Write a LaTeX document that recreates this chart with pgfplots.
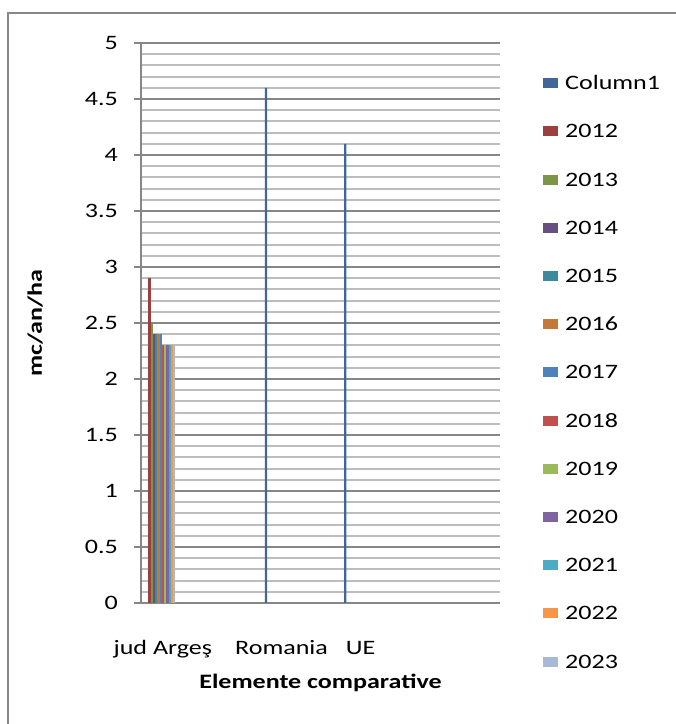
\documentclass[border=0pt]{standalone}
\usepackage{fontspec}
\setmainfont{Carlito}[FakeStretch=1.27]
\usepackage{pgfplots}
\pgfplotsset{compat=1.18}

% excel 2007 palette, first six series darker
\definecolor{cA}{HTML}{3F6797}
\definecolor{cB}{HTML}{9A403E}
\definecolor{cC}{HTML}{7C9647}
\definecolor{cD}{HTML}{665082}
\definecolor{cE}{HTML}{3C8A9E}
\definecolor{cF}{HTML}{C67838}
\definecolor{cG}{HTML}{4F81BD}
\definecolor{cH}{HTML}{C0504D}
\definecolor{cI}{HTML}{9BBB59}
\definecolor{cJ}{HTML}{8064A2}
\definecolor{cK}{HTML}{4BACC6}
\definecolor{cL}{HTML}{F79646}
\definecolor{cM}{HTML}{A7B9D9}
\definecolor{gridmaj}{HTML}{878787}
\definecolor{gridmin}{HTML}{BDBDBD}

\begin{document}
\fontsize{20.5bp}{24bp}\selectfont
\begin{tikzpicture}
\path[use as bounding box] (0,0) rectangle (676bp,724bp);
\draw[gridmaj, line width=2bp] (8bp,0) -- (8bp,711bp) -- (676bp,711bp);
\begin{axis}[
    at={(141bp,121bp)}, anchor=south west,
    scale only axis, width=359bp, height=560bp,
    xmin=-0.5, xmax=8.57, ymin=0, ymax=5,
    enlargelimits=false,
    ybar, bar width=0.0568,
    axis lines*=left,
    axis line style={gridmaj, line width=2.2bp},
    xtick={0,3,5}, xticklabels={jud Argeş, Romania, UE},
    xtick style={draw=none},
    xticklabel style={anchor=base, inner sep=0pt, yshift=-44bp, xshift=2bp},
    ytick distance=0.5, minor y tick num=4,
    ymajorgrids, yminorgrids,
    major grid style={gridmaj, line width=2.2bp},
    minor grid style={gridmin, line width=2bp},
    tick align=outside, major tick length=7bp, minor tick length=0pt,
    ytick style={gridmaj, line width=2.2bp},
    yticklabel style={anchor=east, inner sep=0pt, xshift=-16bp},
    /pgf/number format/assume math mode=true,
    xlabel={Elemente comparative},
    xlabel style={font=\bfseries, at={(axis description cs:0.5,0)}, anchor=base, yshift=-85bp},
    ylabel={mc/an/ha},
    ylabel style={font=\bfseries, at={(axis description cs:-0.2758,0.5)}, anchor=base},
    every axis plot/.append style={draw=none,
        legend image code/.code={\fill[##1] (0bp,-5bp) rectangle (15bp,5bp);}},
    legend style={at={(axis description cs:1.1198,0.9402)}, anchor=north west,
        draw=none, fill=none, inner sep=0pt, row sep=35.2bp, column sep=7bp,
        nodes={inner sep=0pt, text height=13bp, text depth=0pt}},
    legend cell align=left,
]
\addplot[fill=cA, bar shift=-0.3408] coordinates {(3,4.6) (5,4.1)};
\addplot[fill=cB, bar shift=-0.2840] coordinates {(0,2.9)};
\addplot[fill=cC, bar shift=-0.2272] coordinates {(0,2.5)};
\addplot[fill=cD, bar shift=-0.1704] coordinates {(0,2.4)};
\addplot[fill=cE, bar shift=-0.1136] coordinates {(0,2.4)};
\addplot[fill=cF, bar shift=-0.0568] coordinates {(0,2.4)};
\addplot[fill=cG, bar shift=0] coordinates {(0,2.4)};
\addplot[fill=cH, bar shift=0.0568] coordinates {(0,2.3)};
\addplot[fill=cI, bar shift=0.1136] coordinates {(0,2.3)};
\addplot[fill=cJ, bar shift=0.1704] coordinates {(0,2.3)};
\addplot[fill=cK, bar shift=0.2272] coordinates {(0,2.3)};
\addplot[fill=cL, bar shift=0.2840] coordinates {(0,2.3)};
\addplot[fill=cM, bar shift=0.3408] coordinates {(0,2.3)};
\legend{Column1,2012,2013,2014,2015,2016,2017,2018,2019,2020,2021,2022,2023}
\end{axis}
\end{tikzpicture}
\end{document}
